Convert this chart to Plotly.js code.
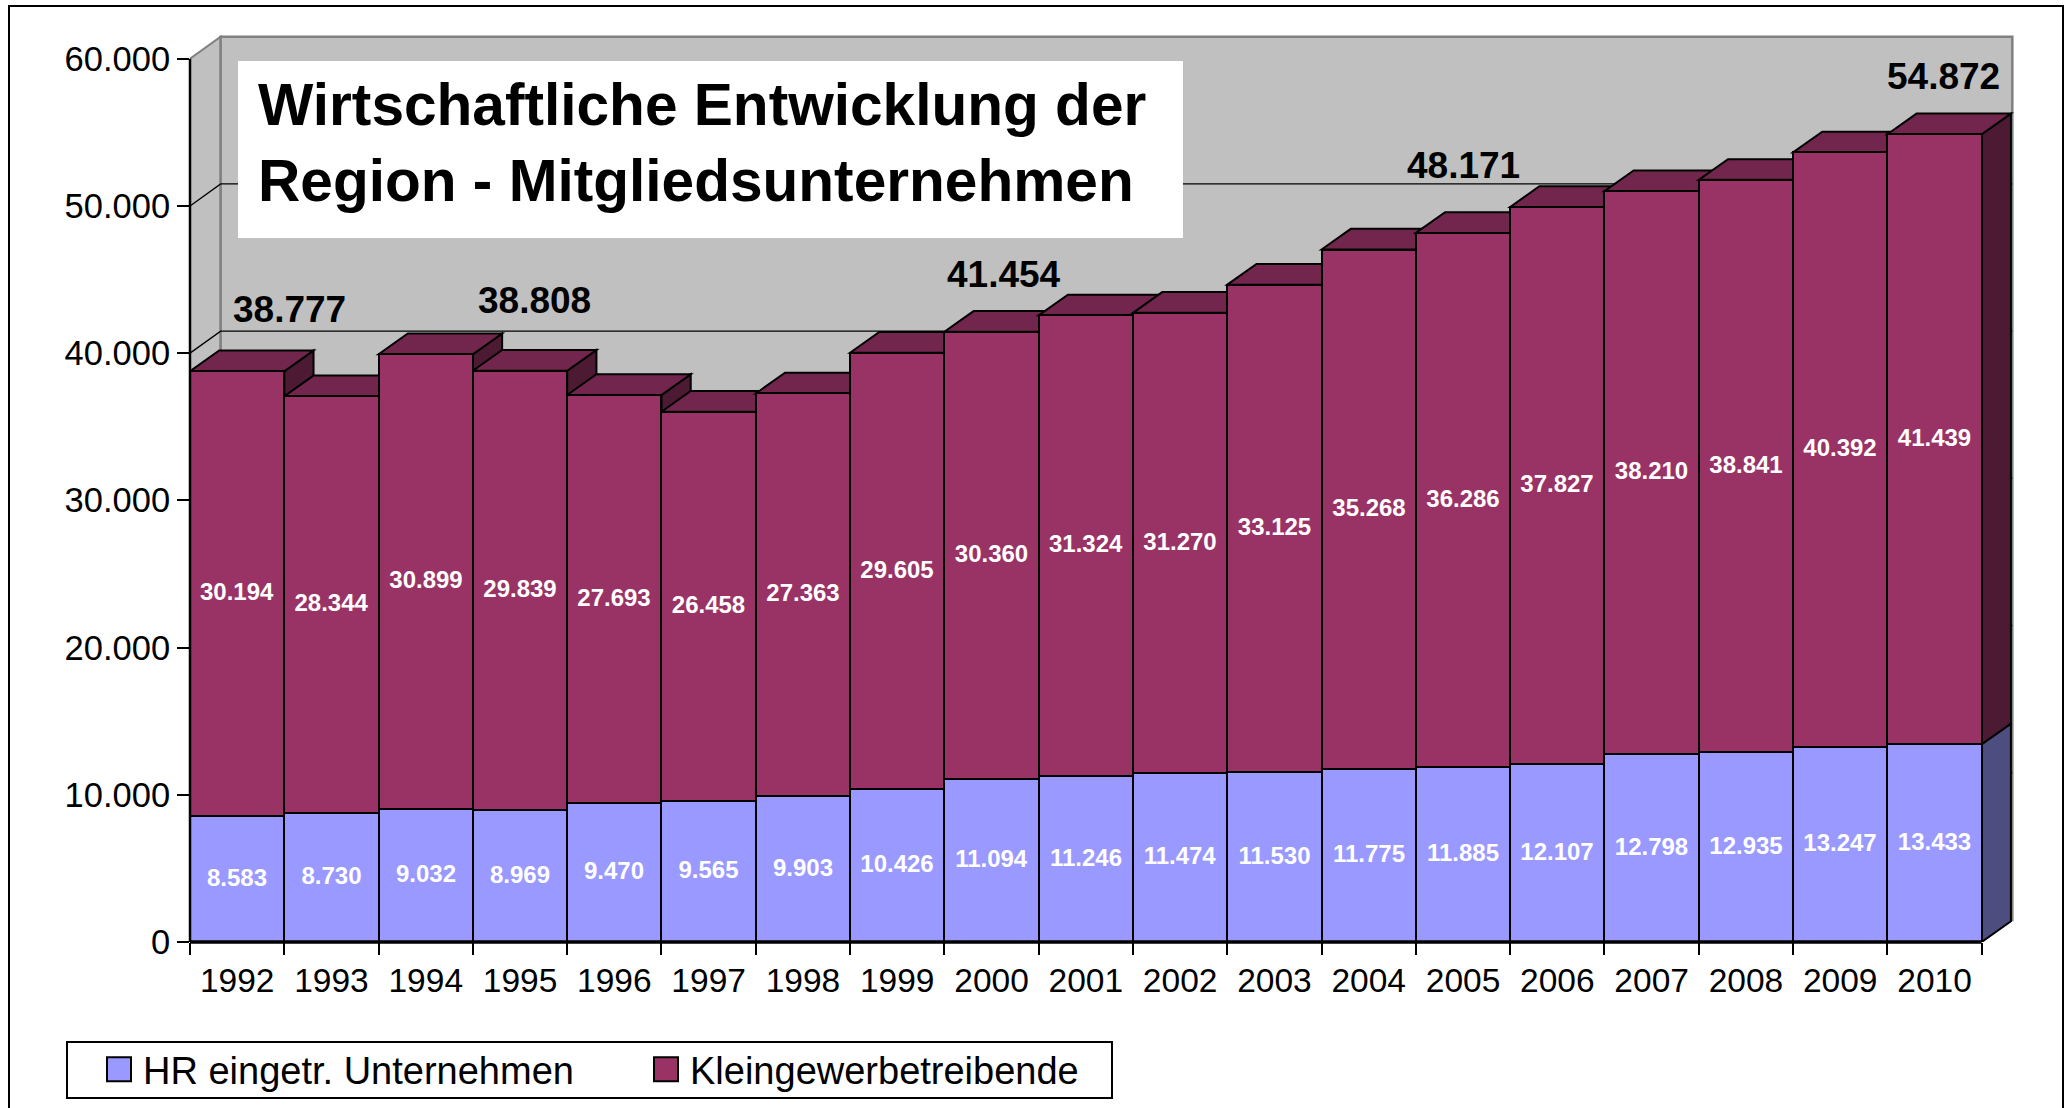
<!DOCTYPE html>
<html>
<head>
<meta charset="utf-8">
<script src="https://cdn.plot.ly/plotly-3.0.1.min.js"></script>
<style>html,body{margin:0;padding:0;background:#fff}#c{width:2066px;height:1108px}</style>
</head>
<body>
<div id="c"></div>
<script>
var years = ['1992','1993','1994','1995','1996','1997','1998','1999','2000','2001','2002','2003','2004','2005','2006','2007','2008','2009','2010'];
var hrUnternehmen = [8583,8730,9032,8969,9470,9565,9903,10426,11094,11246,11474,11530,11775,11885,12107,12798,12935,13247,13433];
var kleingewerbe = [30194,28344,30899,29839,27693,26458,27363,29605,30360,31324,31270,33125,35268,36286,37827,38210,38841,40392,41439];
var seriesNames = ['HR eingetr. Unternehmen','Kleingewerbetreibende'];
var yTicks = [0,10000,20000,30000,40000,50000,60000];
var totalYears = ['1992','1995','2000','2005','2010'];
var chartTitle = 'Wirtschaftliche Entwicklung der<br>Region - Mitgliedsunternehmen';

var W = 2066, H = 1108, ML = 190, MR = 50, MT = 34, MB = 166;
var PW = W - ML - MR, PH = H - MT - MB;
var FONT = '"Liberation Sans", Arial, sans-serif';
var C_HR = '#9999FF', C_KL = '#993366', C_TOP = '#73264D', C_SIDE = '#4D1A33', C_SIDE_HR = '#4D4D80', C_WALL = '#C0C0C0', C_EDGE = '#808080';
var xMin = -0.5, xEnd = years.length - 0.5, xMax = 18.864, yMax = 61685;
var BAR_DX = 0.31, BAR_DY = 1406, WALL_DX = 0.325, WALL_DY = 1500;
function px(x){ return (x - ML) / PW; }
function py(y){ return (H - MB - y) / PH; }
function poly(points, fill, lineColor, lineWidth, layer){
  return {type:'path', xref:'x', yref:'y', layer:layer || 'below', fillcolor:fill,
    line:{color:lineColor, width:lineWidth},
    path:'M' + points.map(function(p){return p[0] + ',' + p[1];}).join('L') + 'Z'};
}
var shapes = [];
// walls and floor
shapes.push(poly([[xMin,0],[xMin+WALL_DX,WALL_DY],[xEnd+WALL_DX,WALL_DY],[xEnd,0]], C_WALL, C_WALL, 1));
shapes.push(poly([[xMin,0],[xMin+WALL_DX,WALL_DY],[xMin+WALL_DX,60000+WALL_DY],[xMin,60000]], C_WALL, C_EDGE, 2));
shapes.push(poly([[xMin+WALL_DX,WALL_DY],[xMin+WALL_DX,60000+WALL_DY],[xEnd+WALL_DX,60000+WALL_DY],[xEnd+WALL_DX,WALL_DY]], C_WALL, C_EDGE, 2.5));
// gridlines on the walls
yTicks.slice(1,-1).forEach(function(t){
  shapes.push({type:'path', xref:'x', yref:'y', layer:'below', line:{color:'#000', width:1.4},
    path:'M'+xMin+','+t+'L'+(xMin+WALL_DX)+','+(t+WALL_DY)+'L'+(xEnd+WALL_DX)+','+(t+WALL_DY)});
});
// 3D faces, painted left to right behind the front faces
years.forEach(function(y,i){
  var l = i - 0.5, r = i + 0.5, a = hrUnternehmen[i], t = a + kleingewerbe[i], K = '#000';
  shapes.push(poly([[r,0],[r+BAR_DX,BAR_DY],[r+BAR_DX,a+BAR_DY],[r,a]], C_SIDE_HR, K, 2));
  shapes.push(poly([[r,a],[r+BAR_DX,a+BAR_DY],[r+BAR_DX,t+BAR_DY],[r,t]], C_SIDE, K, 2));
  shapes.push(poly([[l,t],[l+BAR_DX,t+BAR_DY],[r+BAR_DX,t+BAR_DY],[r,t]], C_TOP, K, 2));
});
// white box behind the title
shapes.push({type:'rect', xref:'paper', yref:'paper', layer:'above', x0:px(238), x1:px(1183), y0:py(238), y1:py(61), fillcolor:'#fff', line:{width:0}});
// axis lines
shapes.push({type:'line', xref:'paper', yref:'y', layer:'above', x0:0, x1:0, y0:0, y1:60000, line:{color:'#000', width:2.5}});
shapes.push({type:'line', xref:'x', yref:'paper', layer:'above', x0:xMin, x1:xEnd, y0:0, y1:0, line:{color:'#000', width:3.5}});
// outer frame
shapes.push({type:'path', xref:'paper', yref:'paper', layer:'above', line:{color:'#000', width:2},
  path:'M'+px(9)+','+py(H)+'L'+px(9)+','+py(6)+'L'+px(2063)+','+py(6)+'L'+px(2063)+','+py(H)});

// total labels
var totalOffsets = {'1992':[52,62],'1995':[14,70],'2000':[12,57],'2005':[0,67],'2010':[9,58]};
var annotations = totalYears.map(function(y){
  var i = years.indexOf(y), s = hrUnternehmen[i] + kleingewerbe[i];
  return {x:i, y:s, xref:'x', yref:'y', showarrow:false, xanchor:'center', yanchor:'middle',
    xshift:totalOffsets[y][0], yshift:totalOffsets[y][1],
    text:String(s).replace(/(\d{3})$/,'.$1'), font:{family:FONT, size:37, weight:700, color:'#000'}};
});

var barText = {family:FONT, size:24, weight:700, color:'#fff'};
var traces = [
  {type:'bar', name:seriesNames[0], x:years, y:hrUnternehmen, marker:{color:C_HR, line:{color:'#000', width:2}}, legendwidth:467,
   texttemplate:'%{y:,d}', textposition:'inside', insidetextanchor:'middle', textangle:0, insidetextfont:barText, cliponaxis:true},
  {type:'bar', name:seriesNames[1], x:years, y:kleingewerbe, marker:{color:C_KL, line:{color:'#000', width:2}}, legendwidth:416,
   texttemplate:'%{y:,d}', textposition:'inside', insidetextanchor:'middle', textangle:0, insidetextfont:barText, cliponaxis:true}
];
var layout = {
  width:W, height:H, margin:{l:ML, r:MR, t:MT, b:MB, pad:0, autoexpand:false},
  paper_bgcolor:'#fff', plot_bgcolor:'#fff', separators:',.',
  barmode:'stack', bargap:0, showlegend:true,
  font:{family:FONT, color:'#000'},
  title:{text:chartTitle, x:258/W, y:1-125/H, xref:'container', yref:'container', xanchor:'left', yanchor:'top',
    font:{family:FONT, size:58.6, weight:700, color:'#000'}, pad:{t:0,b:0,l:0,r:0}},
  xaxis:{type:'category', categoryorder:'array', categoryarray:years, range:[xMin,xMax], tickson:'boundaries',
    ticks:'outside', ticklen:12, tickwidth:1.5, tickcolor:'#000', showline:false, showgrid:false, zeroline:false,
    ticklabelstandoff:15, tickfont:{family:FONT, size:33.5, color:'#000'}, tickangle:0, fixedrange:true},
  yaxis:{range:[0,yMax], tickvals:yTicks, tickformat:',d', ticks:'outside', ticklen:12, tickwidth:1.5, tickcolor:'#000',
    showline:false, showgrid:false, zeroline:false, tickfont:{family:FONT, size:34.5, color:'#000'}, fixedrange:true},
  legend:{orientation:'h', x:px(66), y:py(1041), xanchor:'left', yanchor:'top', bgcolor:'#fff', bordercolor:'#000', borderwidth:2,
    font:{family:FONT, size:38, color:'#000'}, itemwidth:65, traceorder:'normal', itemclick:false, itemdoubleclick:false},
  shapes:shapes, annotations:annotations, hovermode:false
};
Plotly.newPlot('c', traces, layout, {displayModeBar:false, responsive:false}).then(function(){
  // square legend keys as in the reference
  document.querySelectorAll('.legend .legendpoints path').forEach(function(p){
    p.setAttribute('d','M25.5,12H1.5V-12H25.5Z');
  });
  // legend box height and text position as in the reference
  var bg = document.querySelector('.legend .bg');
  if (bg) bg.setAttribute('height', 56);
  var sb = document.querySelector('.legend .scrollbox');
  if (sb) sb.setAttribute('transform', 'translate(0,-5)');
  // the reference sets its bar labels slightly above the exact centre
  document.querySelectorAll('.bars text.bartext').forEach(function(t){
    t.setAttribute('transform','translate(0,-2) ' + (t.getAttribute('transform') || ''));
  });
});
</script>
</body>
</html>
